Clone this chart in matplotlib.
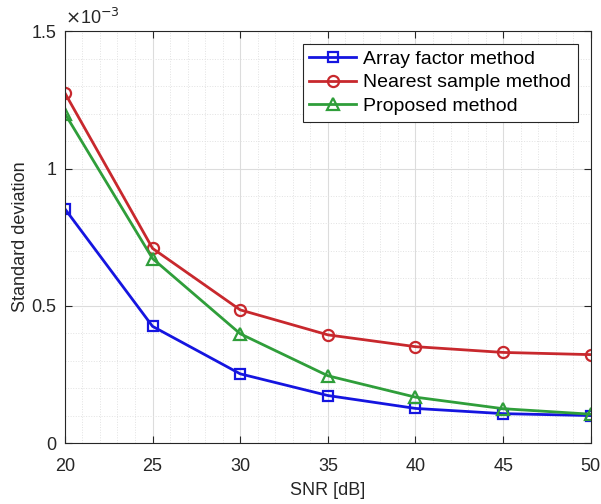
import matplotlib
matplotlib.use("Agg")
import matplotlib.pyplot as plt
from matplotlib.ticker import MultipleLocator, FuncFormatter

plt.rcParams['font.family'] = ['Liberation Sans', 'DejaVu Sans']

snr = [20, 25, 30, 35, 40, 45, 50]
array_factor = [0.853e-3, 0.425e-3, 0.252e-3, 0.173e-3, 0.126e-3, 0.107e-3, 0.100e-3]
nearest_sample = [1.275e-3, 0.709e-3, 0.485e-3, 0.394e-3, 0.351e-3, 0.330e-3, 0.322e-3]
proposed = [1.200e-3, 0.672e-3, 0.398e-3, 0.245e-3, 0.167e-3, 0.125e-3, 0.105e-3]

fig = plt.figure(figsize=(6.01, 5.04), dpi=100)
ax = fig.add_axes([0.108, 0.121, 0.875, 0.817])

ax.plot(snr, array_factor, color='#1515e0', lw=2, marker='s', ms=6.5, mfc='none', mew=1.6,
        label='Array factor method')
ax.plot(snr, nearest_sample, color='#c8282d', lw=2, marker='o', ms=8, mfc='none', mew=1.6,
        label='Nearest sample method')
ax.plot(snr, proposed, color='#2f9e3a', lw=2, marker='^', ms=8, mfc='none', mew=1.6,
        label='Proposed method')

ax.set_xlim(20, 50)
ax.set_ylim(0, 1.5e-3)
ax.xaxis.set_major_locator(MultipleLocator(5))
ax.xaxis.set_minor_locator(MultipleLocator(1))
ax.yaxis.set_major_locator(MultipleLocator(0.5e-3))
ax.yaxis.set_minor_locator(MultipleLocator(0.1e-3))
ax.yaxis.set_major_formatter(FuncFormatter(lambda v, p: '%g' % round(v * 1e3, 6)))

ax.grid(which='major', color='#dcdcdc', lw=0.8, ls='-')
ax.grid(which='minor', color='#e2e2e2', lw=0.7, ls=':')
ax.set_axisbelow(True)
ax.tick_params(which='major', direction='in', length=5, labelsize=13, colors='#262626',
               top=True, right=True)
ax.tick_params(axis='x', which='major', pad=11)
ax.tick_params(axis='y', which='major', pad=6)
ax.tick_params(which='minor', length=0)
for s in ax.spines.values():
    s.set_color('#262626')
    s.set_linewidth(0.8)

ax.set_xlabel('SNR [dB]', fontsize=13, color='#262626', labelpad=5)
ax.set_ylabel('Standard deviation', fontsize=13, color='#262626', labelpad=2)
ax.text(0.0, 1.008, r'$\times$10$^{-3}$', transform=ax.transAxes, fontsize=13,
        color='#262626', ha='left', va='bottom')

leg = ax.legend(loc='upper right', bbox_to_anchor=(0.975, 0.970), fontsize=14,
                frameon=True, fancybox=False, edgecolor='#262626', framealpha=1,
                handlelength=2.4, borderpad=0.35, labelspacing=0.3, handletextpad=0.35,
                borderaxespad=0)
leg.get_frame().set_linewidth(0.8)

fig.savefig('out.png', dpi=100)
